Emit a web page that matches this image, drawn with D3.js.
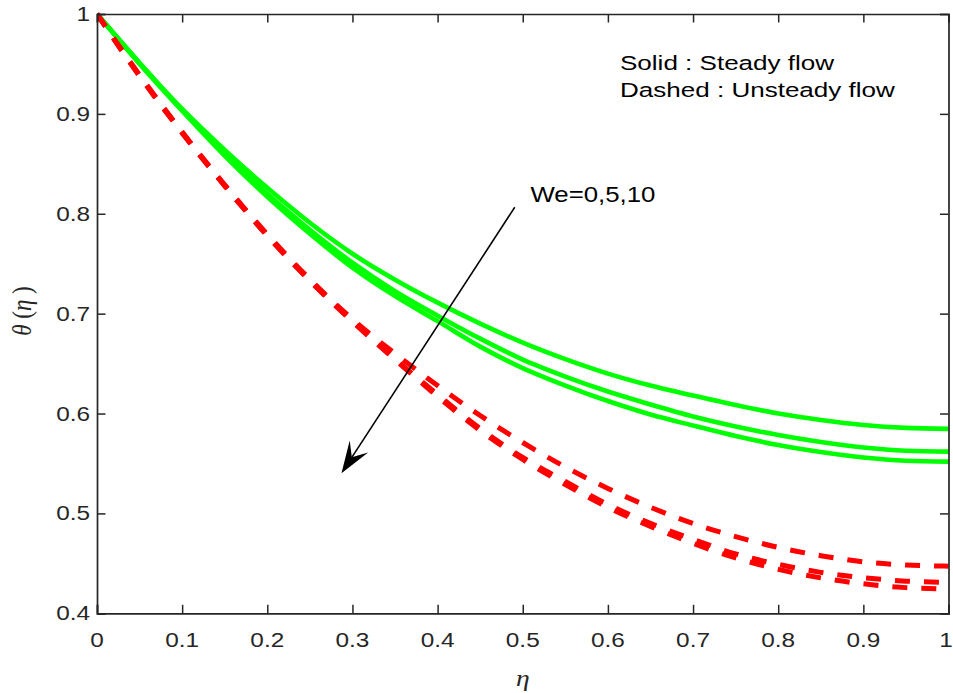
<!DOCTYPE html>
<html>
<head>
<meta charset="utf-8">
<script src="https://cdn.jsdelivr.net/npm/d3@7"></script>
<style>
  html, body { margin: 0; padding: 0; background: #fff; }
  svg { display: block; }
</style>
</head>
<body>
<svg id="chart" width="953" height="693"></svg>
<script>
// ---- data ----
const eta = [0,0.05,0.1,0.15,0.2,0.25,0.3,0.35,0.4,0.45,0.5,0.55,0.6,0.65,0.7,0.75,0.8,0.85,0.9,0.95,1.0];
const steadyWe0  = [1.000,0.951,0.905,0.864,0.826,0.791,0.760,0.734,0.711,0.690,0.671,0.6545,0.640,0.628,0.618,0.6085,0.600,0.5935,0.5885,0.5856,0.5846];
const steadyWe5  = [1.000,0.951,0.904,0.860,0.820,0.784,0.751,0.7225,0.698,0.675,0.654,0.637,0.622,0.609,0.597,0.587,0.5785,0.5715,0.566,0.5628,0.5619];
const steadyWe10 = [1.000,0.950,0.903,0.858,0.817,0.780,0.746,0.7175,0.6925,0.667,0.6455,0.628,0.6125,0.599,0.588,0.5775,0.5685,0.5615,0.556,0.5528,0.5519];
const unsteadyWe0  = [1.000,0.939,0.882,0.829,0.7795,0.7345,0.6945,0.660,0.628,0.598,0.571,0.5465,0.525,0.5062,0.490,0.4768,0.466,0.4577,0.4515,0.4484,0.4472];
const unsteadyWe5  = [1.000,0.938,0.881,0.828,0.778,0.733,0.6925,0.6545,0.619,0.585,0.556,0.532,0.509,0.490,0.474,0.4595,0.449,0.441,0.4357,0.4322,0.431];
const unsteadyWe10 = [1.000,0.938,0.881,0.828,0.778,0.733,0.692,0.654,0.617,0.583,0.554,0.529,0.506,0.487,0.470,0.4555,0.444,0.4355,0.4295,0.4257,0.4243];

const xTicks = [0,0.1,0.2,0.3,0.4,0.5,0.6,0.7,0.8,0.9,1];
const xTickLabels = ["0","0.1","0.2","0.3","0.4","0.5","0.6","0.7","0.8","0.9","1"];
const yTicks = [0.4,0.5,0.6,0.7,0.8,0.9,1];
const yTickLabels = ["0.4","0.5","0.6","0.7","0.8","0.9","1"];

const legendLines = ["Solid : Steady flow", "Dashed : Unsteady flow"];
const annotationText = "We=0,5,10";
const arrowFrom = [0.4906, 0.8065];
const arrowTo = [0.2871, 0.5402];

// ---- layout ----
const svg = d3.select("#chart");
const L = 97, R = 948.5, T = 14, B = 613.3;
const x = d3.scaleLinear().domain([0,1]).range([L,R]);
const y = d3.scaleLinear().domain([0.4,1]).range([B,T]);
const axisColor = "#262626";
const sansFont = "'Liberation Sans', Arial, Helvetica, sans-serif";
const serifFont = "'Liberation Serif', 'Times New Roman', serif";

// clip
svg.append("defs").append("clipPath").attr("id","clip")
  .append("rect").attr("x",L).attr("y",T-3).attr("width",R-L+3).attr("height",B-T+3);

// series
const line = d3.line().x((d,i)=>x(eta[i])).y(d=>y(d)).curve(d3.curveMonotoneX);
const g = svg.append("g").attr("clip-path","url(#clip)");
[steadyWe0, steadyWe5, steadyWe10].forEach(s => {
  g.append("path").attr("d", line(s)).attr("fill","none")
   .attr("stroke","#00ff00").attr("stroke-width",4.6).attr("stroke-linejoin","round");
});
[unsteadyWe0, unsteadyWe5, unsteadyWe10].forEach(s => {
  g.append("path").attr("d", line(s)).attr("fill","none")
   .attr("stroke","#ff0000").attr("stroke-width",5).attr("stroke-dasharray","15,14");
});

// axes (box with inward ticks)
const tickLen = 8.5;
const axB = d3.axisBottom(x).tickValues(xTicks).tickSize(-tickLen).tickFormat("");
const axT = d3.axisTop(x).tickValues(xTicks).tickSize(-tickLen).tickFormat("");
const axLft = d3.axisLeft(y).tickValues(yTicks).tickSize(-tickLen).tickFormat("");
const axRgt = d3.axisRight(y).tickValues(yTicks).tickSize(-tickLen).tickFormat("");
[[axB,`translate(0,${B})`],[axT,`translate(0,${T})`],[axLft,`translate(${L},0)`],[axRgt,`translate(${R},0)`]]
.forEach(([ax,tr]) => {
  const a = svg.append("g").attr("transform",tr).call(ax);
  a.selectAll("path.domain").attr("stroke",axisColor).attr("stroke-width",1.7);
  a.selectAll(".tick line").attr("stroke",axisColor).attr("stroke-width",1.5);
});

// tick labels (horizontally stretched like the original)
const sx = 1.25;
xTicks.forEach((t,i) => {
  svg.append("text")
    .attr("transform",`translate(${Math.min(x(t), 946)},647.3) scale(${sx},1)`)
    .attr("text-anchor","middle")
    .attr("font-family",sansFont).attr("font-size",19.5).attr("fill",axisColor)
    .text(xTickLabels[i]);
});
yTicks.forEach((t,i) => {
  svg.append("text")
    .attr("transform",`translate(90,${y(t)+7}) scale(${sx},1)`)
    .attr("text-anchor","end")
    .attr("font-family",sansFont).attr("font-size",19.5).attr("fill",axisColor)
    .text(yTickLabels[i]);
});

// axis titles
svg.append("text")
  .attr("transform",`translate(${x(0.5)},686) scale(1.15,1)`)
  .attr("text-anchor","middle")
  .attr("font-family",serifFont).attr("font-style","italic").attr("font-size",24).attr("fill",axisColor)
  .text("η");
const yl = svg.append("text")
  .attr("transform",`translate(31,311) rotate(-90) scale(1,1.2)`)
  .attr("text-anchor","middle")
  .attr("font-family",serifFont).attr("font-size",23).attr("fill",axisColor);
yl.append("tspan").attr("font-style","italic").text("θ");
yl.append("tspan").text(" (");
yl.append("tspan").attr("font-style","italic").text("η");
yl.append("tspan").text(" )");

// legend note
legendLines.forEach((s,i) => {
  svg.append("text")
    .attr("transform",`translate(620,${70 + i*27.3}) scale(1.27,1)`)
    .attr("font-family",sansFont).attr("font-size",20.5).attr("fill","#000")
    .text(s);
});

// annotation
svg.append("text")
  .attr("transform",`translate(530.5,202) scale(1.2,1)`)
  .attr("font-family",sansFont).attr("font-size",21.5).attr("fill","#000")
  .text(annotationText);

const x1 = x(arrowFrom[0]), y1 = y(arrowFrom[1]);
const x2 = x(arrowTo[0]), y2 = y(arrowTo[1]);
const ang = Math.atan2(y2-y1, x2-x1);
const headLen = 32, headW = 11, notch = 19;
const bx = x2 - headLen*Math.cos(ang), by = y2 - headLen*Math.sin(ang);
const nx = x2 - notch*Math.cos(ang), ny = y2 - notch*Math.sin(ang);
const px = -Math.sin(ang), py = Math.cos(ang);
svg.append("line").attr("x1",x1).attr("y1",y1).attr("x2",nx).attr("y2",ny)
  .attr("stroke","#000").attr("stroke-width",1.6);
svg.append("path")
  .attr("d", `M${x2},${y2} L${bx+px*headW},${by+py*headW} L${nx},${ny} L${bx-px*headW},${by-py*headW} Z`)
  .attr("fill","#000");
</script>
</body>
</html>
